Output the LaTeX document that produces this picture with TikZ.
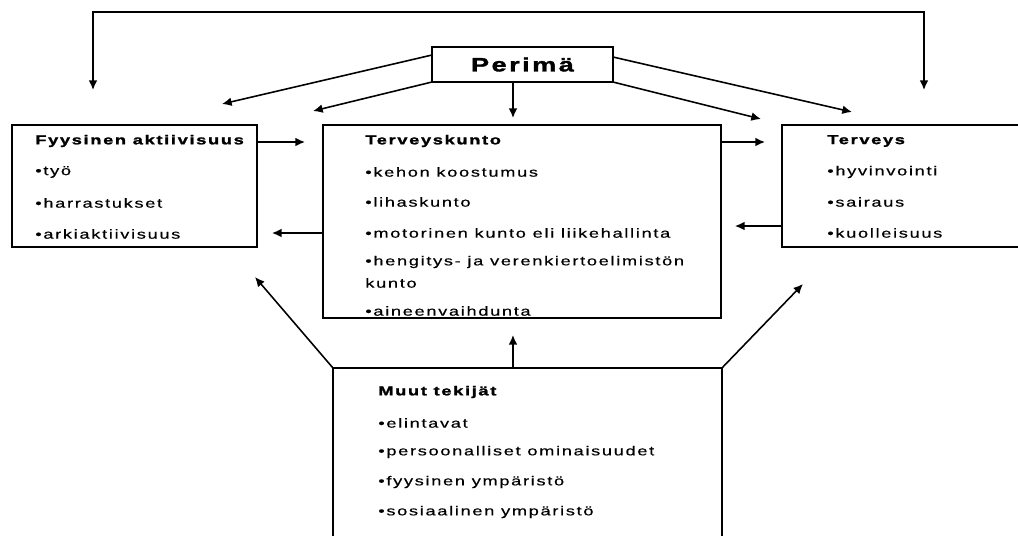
\documentclass[tikz,border=0pt]{standalone}
\usepackage{fontspec}
\setmainfont{Liberation Sans}[FakeStretch=1.4,LetterSpace=13,
  UprightFeatures={FakeBold=0.4},BoldFeatures={FakeBold=1.6}]
\usetikzlibrary{arrows.meta,calc}

\begin{document}
\begin{tikzpicture}[x=0.02cm,y=-0.02cm,
  laatikko/.style={draw,line width=1.1pt,inner sep=0pt,outer sep=0pt,anchor=north west},
  teksti/.style={anchor=west,inner sep=0pt,font=\fontsize{7.4}{9}\selectfont},
  otsikko/.style={teksti,font=\fontsize{7.4}{9}\selectfont\bfseries},
  nuoli/.style={line width=0.9pt,-{Latex[length=5.5pt,width=5pt]}}]
  \clip (0,0) rectangle (1018,535);
  % laatikot
  \node[laatikko,minimum width=3.62cm,minimum height=0.7cm] (perima) at (432,47) {};
  \node[font=\fontsize{11}{13}\selectfont\bfseries] (perimateksti) at (perima.center) {Perimä};
  \node[laatikko,minimum width=4.9cm,minimum height=2.44cm] (fyys) at (12,125) {};
  \node[laatikko,minimum width=7.96cm,minimum height=3.86cm] (kunto) at (323,125) {};
  \node[laatikko,minimum width=5.2cm,minimum height=2.44cm] (terv) at (782,125) {};
  \node[laatikko,minimum width=7.78cm,minimum height=4cm] (muut) at (333,368) {};
  % tekstit
  \node[otsikko] (fyys0) at (35,141) {Fyysinen aktiivisuus};
  \node[teksti] (fyys1) at (35,172) {•työ};
  \node[teksti] (fyys2) at (35,203) {•harrastukset};
  \node[teksti] (fyys3) at (35,234) {•arkiaktiivisuus};
  \node[otsikko] (kunto0) at (365,141) {Terveyskunto};
  \node[teksti] (kunto1) at (365,172) {•kehon koostumus};
  \node[teksti] (kunto2) at (365,202) {•lihaskunto};
  \node[teksti] (kunto3) at (365,233) {•motorinen kunto eli liikehallinta};
  \node[teksti] (kunto4) at (365,262) {•hengitys- ja verenkiertoelimistön};
  \node[teksti] (kunto5) at (365,283) {kunto};
  \node[teksti] (kunto6) at (365,311) {•aineenvaihdunta};
  \node[otsikko] (terv0) at (827,141) {Terveys};
  \node[teksti] (terv1) at (827,172) {•hyvinvointi};
  \node[teksti] (terv2) at (827,202) {•sairaus};
  \node[teksti] (terv3) at (827,233) {•kuolleisuus};
  \node[otsikko] (muut0) at (378,392) {Muut tekijät};
  \node[teksti] (muut1) at (378,423) {•elintavat};
  \node[teksti] (muut2) at (378,452) {•persoonalliset ominaisuudet};
  \node[teksti] (muut3) at (378,482) {•fyysinen ympäristö};
  \node[teksti] (muut4) at (378,512) {•sosiaalinen ympäristö};
  % yläkaari
  \coordinate (vasen) at (93,90);
  \coordinate (oikea) at (924,90);
  \draw[nuoli,{Latex[length=5.5pt,width=5pt]}-{Latex[length=5.5pt,width=5pt]}] (vasen) |- (500,12) -| (oikea);
  % perimästä
  \draw[nuoli] ($(perima.north west)+(0,8)$) -- ($(fyys.north east)+(-35,-21)$);
  \draw[nuoli] (perima.south west) -- ($(kunto.north west)+(-10,-14)$);
  \draw[nuoli] ($(perima.south west)+(81,0)$) -- ($(kunto.north west)+(190,-7)$);
  \draw[nuoli] (perima.south east) -- ($(terv.north west)+(-21,-6)$);
  \draw[nuoli] ($(perima.north east)+(0,10)$) -- ($(terv.north west)+(70,-13)$);
  % vaakanuolet
  \draw[nuoli] ($(fyys.north east)+(0,17)$) -- ($(kunto.north west)+(-18,17)$);
  \draw[nuoli] ($(kunto.north west)+(0,108)$) -- ($(fyys.north east)+(15,108)$);
  \draw[nuoli] ($(kunto.north east)+(0,17)$) -- ($(terv.north west)+(-17,17)$);
  \draw[nuoli] ($(terv.north west)+(0,101)$) -- ($(kunto.north east)+(14,101)$);
  % muut tekijät
  \draw[nuoli] ($(muut.north west)+(180,0)$) -- ($(kunto.south)+(-9,17)$);
  \draw[nuoli] (muut.north west) -- ($(fyys.south east)+(-2,30)$);
  \draw[nuoli] (muut.north east) -- ($(terv.south west)+(21,37)$);
\end{tikzpicture}
\end{document}
